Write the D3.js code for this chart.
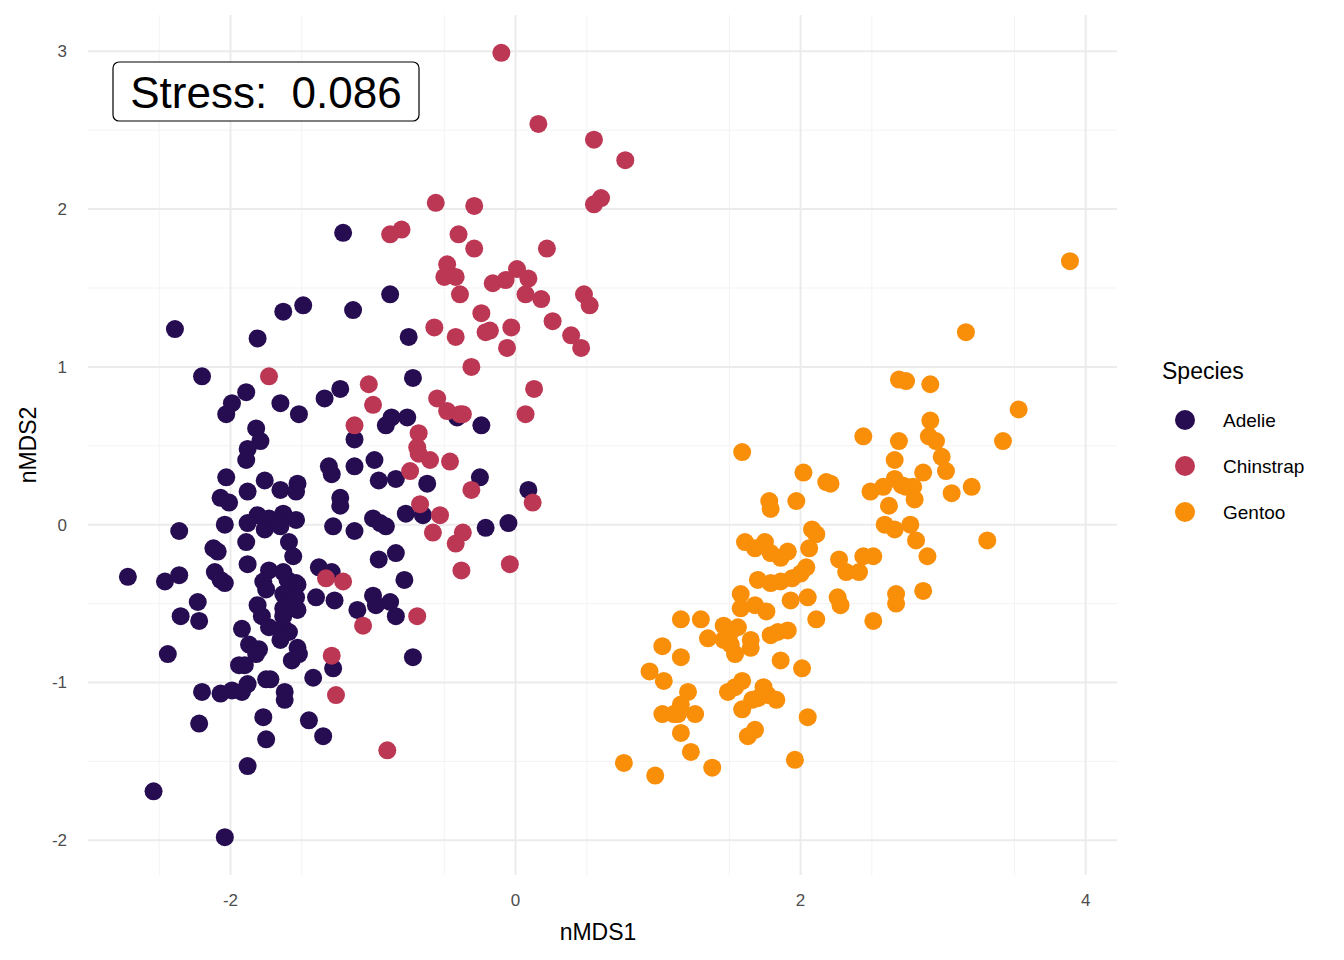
<!DOCTYPE html>
<html><head><meta charset="utf-8">
<script src="https://cdn.jsdelivr.net/npm/d3@7"></script>
<style>body{margin:0;background:#fff;font-family:"Liberation Sans",Arial,sans-serif}</style>
</head><body><svg id="chart" width="1344" height="960"></svg>
<script>
const species = ["Adelie", "Chinstrap", "Gentoo"];
const colors = ["#260c51", "#bc3754", "#f98e09"];
const xTicks = [-2, 0, 2, 4];
const yTicks = [-2, -1, 0, 1, 2, 3];
const stressLabel = "Stress:  0.086";

const adelie = [[-1.21,1.85],[-0.88,1.46],[-2.39,1.24],[-1.49,1.39],[-1.63,1.35],[-1.14,1.36],[-1.81,1.18],[-0.75,1.19],
[-2.20,0.94],[-0.72,0.93],[-1.23,0.86],[-1.34,0.80],[-1.89,0.84],[-1.99,0.77],[-2.03,0.70],[-1.65,0.77],[-1.52,0.70],
[-0.91,0.63],[-0.87,0.68],[-0.76,0.68],[-1.82,0.61],[-1.13,0.54],[-1.79,0.53],[-1.88,0.48],[-1.89,0.41],[-0.41,0.68],
[-0.24,0.63],[-1.31,0.37],[-1.13,0.37],[-0.99,0.41],[-1.29,0.32],[-2.03,0.30],[-1.76,0.28],[-1.53,0.26],[-0.96,0.28],
[-0.84,0.29],[-0.62,0.26],[-0.25,0.30],[0.09,0.22],[-1.88,0.21],[-1.65,0.22],[-1.23,0.17],[-1.23,0.12],[-2.07,0.17],
[-2.01,0.14],[-1.54,0.21],[-1.81,0.06],[-1.73,0.04],[-1.63,0.07],[-1.54,0.03],[-2.04,0.0],[-1.88,0.01],[-1.76,-0.03],
[-1.65,-0.01],[-1.28,-0.01],[-1.13,-0.04],[-1.00,0.04],[-0.95,0.01],[-0.91,-0.01],[-0.77,0.07],[-0.65,0.06],[-0.21,-0.02],
[-0.05,0.01],[-2.36,-0.04],[-1.89,-0.11],[-1.59,-0.11],[-2.12,-0.15],[-2.09,-0.17],[-0.84,-0.18],[-0.96,-0.22],[-1.56,-0.20],
[-1.88,-0.25],[-1.73,-0.29],[-1.77,-0.36],[-1.75,-0.41],[-2.11,-0.30],[-2.07,-0.35],[-2.04,-0.37],[-1.63,-0.30],[-1.60,-0.35],
[-1.54,-0.37],[-1.53,-0.38],[-1.38,-0.27],[-1.29,-0.30],[-2.72,-0.33],[-2.46,-0.36],[-2.36,-0.32],[-0.78,-0.35],[-1.63,-0.44],
[-1.54,-0.46],[-1.40,-0.46],[-1.27,-0.48],[-1.00,-0.45],[-0.98,-0.51],[-0.88,-0.49],[-2.23,-0.49],[-1.81,-0.51],[-1.78,-0.58],
[-1.63,-0.53],[-1.63,-0.58],[-1.53,-0.54],[-1.11,-0.54],[-0.84,-0.58],[-2.35,-0.58],[-2.22,-0.61],[-1.73,-0.65],[-1.63,-0.65],
[-1.59,-0.68],[-1.65,-0.73],[-1.92,-0.66],[-1.87,-0.76],[-1.80,-0.79],[-1.82,-0.82],[-1.53,-0.78],[-1.52,-0.82],[-1.57,-0.86],
[-1.94,-0.89],[-1.90,-0.89],[-2.44,-0.82],[-1.28,-0.91],[-0.72,-0.84],[-1.42,-0.97],[-1.75,-0.98],[-1.72,-0.98],[-1.88,-1.01],
[-1.99,-1.05],[-2.07,-1.07],[-2.20,-1.06],[-1.62,-1.06],[-1.62,-1.11],[-1.92,-1.06],[-1.77,-1.22],[-1.45,-1.24],[-2.22,-1.26],
[-1.75,-1.36],[-1.35,-1.34],[-1.88,-1.53],[-2.54,-1.69],[-2.04,-1.98]];

const chinstrap = [[-0.10,2.99],[0.16,2.54],[0.55,2.44],[0.77,2.31],[0.60,2.07],[0.55,2.03],[-0.56,2.04],[-0.29,2.02],
[-0.40,1.84],[-0.88,1.84],[-0.80,1.87],[-0.29,1.75],[0.22,1.75],[-0.48,1.65],[0.01,1.62],[-0.50,1.57],[-0.42,1.57],
[-0.16,1.53],[-0.07,1.55],[0.09,1.56],[-0.39,1.46],[0.07,1.46],[0.18,1.43],[0.48,1.46],[0.52,1.39],[-0.24,1.34],
[-0.57,1.25],[-0.42,1.19],[-0.21,1.22],[-0.18,1.23],[-0.03,1.25],[0.26,1.29],[0.39,1.20],[-0.06,1.12],[0.46,1.12],
[-0.31,1.00],[-1.73,0.94],[-1.03,0.89],[0.13,0.86],[-1.00,0.76],[-0.55,0.80],[-0.48,0.72],[-0.39,0.70],[-0.37,0.70],
[0.07,0.70],[-1.13,0.63],[-0.68,0.58],[-0.69,0.49],[-0.68,0.45],[-0.60,0.41],[-0.46,0.40],[-0.74,0.34],[-0.31,0.22],
[-0.67,0.13],[0.12,0.14],[-0.53,0.06],[-0.37,-0.05],[-0.58,-0.05],[-0.42,-0.12],[-0.04,-0.25],[-0.38,-0.29],[-1.33,-0.34],
[-1.21,-0.36],[-0.69,-0.58],[-1.07,-0.64],[-1.29,-0.83],[-1.26,-1.08],[-0.90,-1.43]];

const gentoo = [[3.89,1.67],[3.16,1.22],[2.69,0.92],[2.74,0.91],[2.91,0.89],[3.53,0.73],[2.91,0.66],[2.44,0.56],[2.69,0.53],
[2.90,0.56],[2.95,0.53],[3.42,0.53],[1.59,0.46],[2.99,0.43],[2.66,0.41],[3.02,0.34],[2.02,0.33],[2.86,0.33],[2.18,0.27],
[2.21,0.26],[2.66,0.29],[2.71,0.25],[2.74,0.24],[2.58,0.24],[2.49,0.21],[2.79,0.24],[3.20,0.24],[2.80,0.16],[3.06,0.20],
[2.62,0.12],[1.78,0.15],[1.79,0.10],[1.97,0.15],[2.59,0.0],[2.77,0.0],[2.66,-0.03],[2.08,-0.03],[2.11,-0.06],[1.61,-0.11],
[1.68,-0.15],[1.75,-0.11],[1.79,-0.18],[1.86,-0.21],[1.91,-0.17],[2.06,-0.15],[2.81,-0.10],[3.31,-0.10],[2.44,-0.20],
[2.51,-0.20],[2.27,-0.22],[2.89,-0.20],[2.04,-0.27],[2.32,-0.30],[2.41,-0.30],[1.70,-0.35],[1.79,-0.37],[1.86,-0.36],
[1.94,-0.34],[2.00,-0.31],[1.58,-0.44],[1.58,-0.53],[1.68,-0.51],[1.76,-0.55],[1.93,-0.48],[2.05,-0.46],[2.26,-0.46],
[2.28,-0.51],[2.67,-0.44],[2.67,-0.50],[2.86,-0.42],[2.51,-0.61],[2.11,-0.60],[1.16,-0.60],[1.30,-0.60],[1.46,-0.64],
[1.51,-0.68],[1.56,-0.65],[1.35,-0.72],[1.79,-0.70],[1.84,-0.68],[1.91,-0.67],[1.46,-0.73],[1.51,-0.76],[1.65,-0.73],
[1.65,-0.78],[1.54,-0.82],[1.03,-0.77],[1.16,-0.84],[1.86,-0.86],[0.94,-0.93],[1.04,-0.99],[2.01,-0.91],[1.59,-0.99],
[1.54,-1.03],[1.49,-1.06],[1.74,-1.03],[1.77,-1.08],[1.66,-1.11],[1.70,-1.10],[1.83,-1.11],[1.21,-1.06],[1.16,-1.14],
[1.14,-1.20],[1.03,-1.20],[1.11,-1.20],[1.26,-1.20],[1.59,-1.17],[2.05,-1.22],[1.16,-1.32],[1.68,-1.30],[1.63,-1.34],
[1.23,-1.44],[1.96,-1.49],[1.38,-1.54],[0.76,-1.51],[0.98,-1.59]];

const groups = [adelie, chinstrap, gentoo];
const svg = d3.select("#chart");
const x = d3.scaleLinear().domain([-3, 4.22]).range([88, 1117]);
const y = d3.scaleLinear().domain([-2.22, 3.23]).range([875, 15]);

// grid
const minorX = d3.range(-3, 4.01, 0.5).filter(v => v % 1 !== 0);
const minorY = d3.range(-2.5, 3.01, 0.5).filter(v => v % 1 !== 0 && v > -2.22);
const g = svg.append("g");
g.selectAll(".mx").data(minorX).join("line").attr("x1", d => x(d)).attr("x2", d => x(d))
  .attr("y1", 15).attr("y2", 875).attr("stroke", "#f3f3f3").attr("stroke-width", 1);
g.selectAll(".my").data(minorY).join("line").attr("y1", d => y(d)).attr("y2", d => y(d))
  .attr("x1", 88).attr("x2", 1117).attr("stroke", "#f3f3f3").attr("stroke-width", 1);
g.selectAll(".gx").data(xTicks).join("line").attr("x1", d => x(d)).attr("x2", d => x(d))
  .attr("y1", 15).attr("y2", 875).attr("stroke", "#ebebeb").attr("stroke-width", 2);
g.selectAll(".gy").data(yTicks).join("line").attr("y1", d => y(d)).attr("y2", d => y(d))
  .attr("x1", 88).attr("x2", 1117).attr("stroke", "#ebebeb").attr("stroke-width", 2);

// tick labels
svg.selectAll(".tx").data(xTicks).join("text").attr("x", d => x(d)).attr("y", 906)
  .attr("text-anchor", "middle").attr("font-size", 17).attr("fill", "#4d4d4d").text(d => d);
svg.selectAll(".ty").data(yTicks).join("text").attr("x", 67).attr("y", d => y(d) + 6)
  .attr("text-anchor", "end").attr("font-size", 17).attr("fill", "#4d4d4d").text(d => d);

svg.append("text").attr("x", 598).attr("y", 940).attr("text-anchor", "middle").attr("font-size", 23).text("nMDS1");
svg.append("text").attr("transform", "translate(36,445) rotate(-90)").attr("text-anchor", "middle")
  .attr("font-size", 23).text("nMDS2");

// points
groups.forEach((pts, i) => {
  svg.append("g").selectAll("circle").data(pts).join("circle")
    .attr("cx", d => x(d[0])).attr("cy", d => y(d[1])).attr("r", 9).attr("fill", colors[i]);
});

// stress label
svg.append("rect").attr("x", 113).attr("y", 62).attr("width", 306).attr("height", 59).attr("rx", 6)
  .attr("fill", "#fff").attr("stroke", "#000").attr("stroke-width", 1.2);
svg.append("text").attr("x", 266).attr("y", 108).attr("text-anchor", "middle").attr("font-size", 44)
  .attr("xml:space", "preserve").style("white-space", "pre").text(stressLabel);

// legend
svg.append("text").attr("x", 1162).attr("y", 379).attr("font-size", 23).text("Species");
const lg = svg.selectAll(".lg").data(species).join("g").attr("transform", (d, i) => `translate(0,${420 + i * 46})`);
lg.append("circle").attr("cx", 1185).attr("cy", 0).attr("r", 10).attr("fill", (d, i) => colors[i]);
lg.append("text").attr("x", 1223).attr("y", 7).attr("font-size", 19).text(d => d);
</script></body></html>
